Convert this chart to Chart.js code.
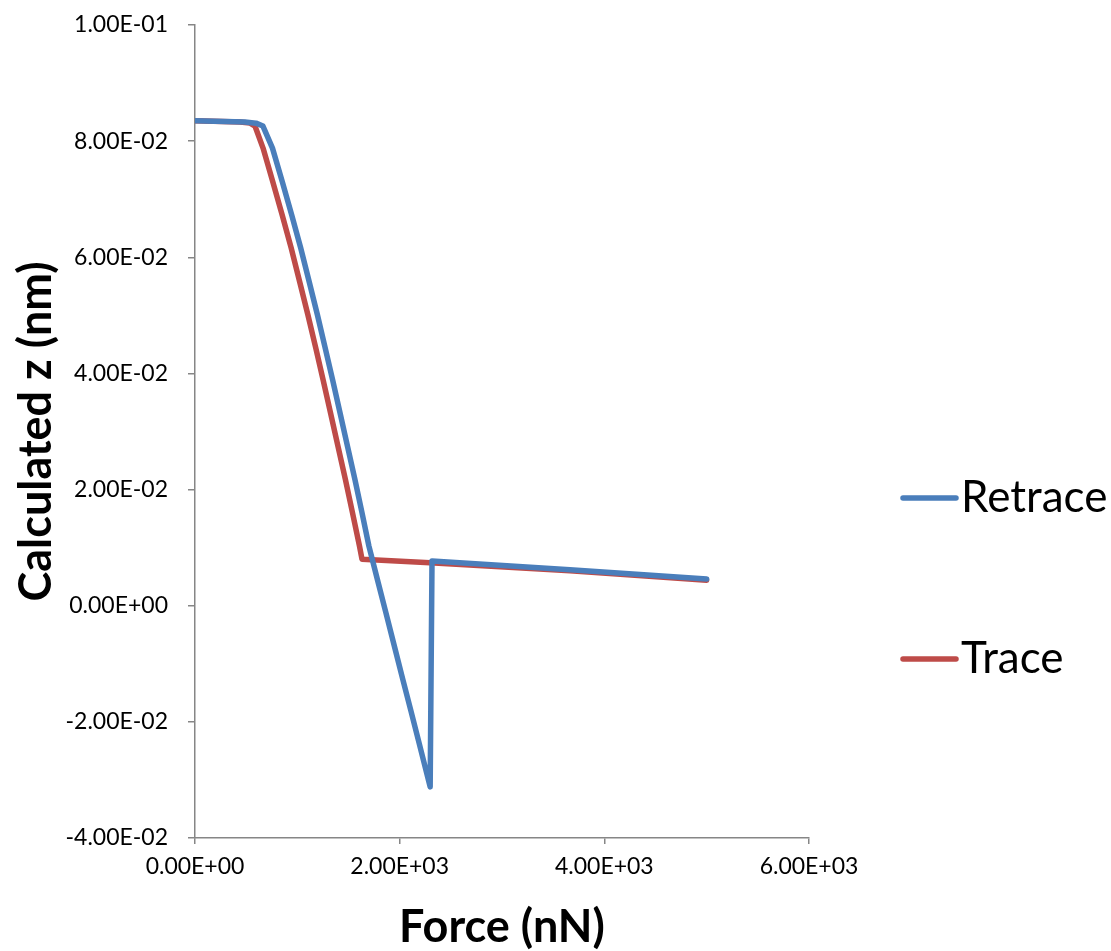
<!DOCTYPE html>
<html>
<head>
<meta charset="utf-8">
<script src="https://cdn.jsdelivr.net/npm/chart.js@4.4.1/dist/chart.umd.min.js"></script>
<style>
  html, body { margin: 0; padding: 0; background: #ffffff; }
  #wrap { width: 1111px; height: 951px; position: relative; }
</style>
</head>
<body>
<div id="wrap"><canvas id="c" width="1111" height="951"></canvas></div>
<script>
// Force (nN) and calculated z (nm) for the retrace sweep
const retraceForce = [0, 489, 596, 664, 757, 853, 945, 1033, 1117, 1196, 1272, 1347, 1420, 1492, 1563, 1632, 1699, 1781, 1864, 1946, 2028, 2110, 2192, 2298, 2316, 3664, 5000];
const retraceZ = [0.0835, 0.0833, 0.0831, 0.0826, 0.0788, 0.0730, 0.0673, 0.0616, 0.0557, 0.0501, 0.0444, 0.0387, 0.0330, 0.0273, 0.0217, 0.0160, 0.0103, 0.0046, -0.0011, -0.0068, -0.0125, -0.0181, -0.0238, -0.0312, 0.0077, 0.0062, 0.0046];

// Force (nN) and calculated z (nm) for the trace sweep
const traceForce = [0, 440, 537, 586, 665, 760, 852, 940, 1024, 1103, 1180, 1254, 1327, 1399, 1470, 1539, 1607, 1632, 2296, 3664, 5000];
const traceZ = [0.0835, 0.0833, 0.0831, 0.0826, 0.0788, 0.0730, 0.0673, 0.0616, 0.0557, 0.0501, 0.0444, 0.0387, 0.0330, 0.0273, 0.0217, 0.0160, 0.0103, 0.0080, 0.0074, 0.0060, 0.0044];

const seriesNames = ['Retrace', 'Trace'];
const seriesColors = ['#4A7EBB', '#BE4B48'];

const xTitle = 'Force (nN)';
const yTitle = 'Calculated z (nm)';

const FONT = 'Lato, "Open Sans", sans-serif';
const AXIS_GREY = '#868686';

function toPoints(xs, ys) {
  return xs.map((x, i) => ({ x: x, y: ys[i] }));
}

// Excel-style scientific notation: 1.00E-01
function sci(v) {
  if (Math.abs(v) < 1e-12) v = 0;
  const s = v.toExponential(2);
  const parts = s.split('e');
  const expNum = parseInt(parts[1], 10);
  const sign = expNum < 0 ? '-' : '+';
  const mag = String(Math.abs(expNum)).padStart(2, '0');
  return parts[0] + 'E' + sign + mag;
}

// Legend drawn at the right side with wide spacing between entries
const sideLegend = {
  id: 'sideLegend',
  afterDraw(chart) {
    const ctx = chart.ctx;
    const rows = [498, 659];
    ctx.save();
    chart.data.datasets.forEach((ds, i) => {
      const y = rows[i];
      ctx.strokeStyle = ds.borderColor;
      ctx.lineWidth = 5.5;
      ctx.lineCap = 'round';
      ctx.beginPath();
      ctx.moveTo(903, y);
      ctx.lineTo(956, y);
      ctx.stroke();
      ctx.fillStyle = '#000000';
      ctx.font = '44px ' + FONT;
      ctx.textBaseline = 'middle';
      ctx.textAlign = 'left';
      ctx.fillText(ds.label, 961, y);
    });
    ctx.restore();
  }
};

function lineDataset(i, xs, ys) {
  return {
    label: seriesNames[i],
    data: toPoints(xs, ys),
    borderColor: seriesColors[i],
    backgroundColor: seriesColors[i],
    showLine: true,
    pointRadius: 0,
    borderWidth: 5.5,
    borderJoinStyle: 'round',
    borderCapStyle: 'round',
    tension: 0
  };
}

new Chart(document.getElementById('c'), {
  type: 'scatter',
  data: {
    datasets: [
      lineDataset(0, retraceForce, retraceZ),
      lineDataset(1, traceForce, traceZ)
    ]
  },
  options: {
    responsive: false,
    animation: false,
    layout: { padding: { left: 0, right: 302, top: 25, bottom: 0 } },
    plugins: {
      legend: { display: false },
      tooltip: { enabled: false }
    },
    scales: {
      x: {
        type: 'linear',
        min: 0,
        max: 6000,
        afterFit(scale) { scale.height = 113; },
        ticks: {
          stepSize: 2000,
          callback: (v) => sci(v),
          color: '#000000',
          font: { family: FONT, size: 23 },
          padding: 9,
          maxRotation: 0
        },
        grid: {
          drawOnChartArea: false,
          drawTicks: true,
          tickLength: 6,
          color: AXIS_GREY,
          lineWidth: 1.5
        },
        border: { display: true, color: AXIS_GREY, width: 1.5 },
        title: {
          display: true,
          text: xTitle,
          color: '#000000',
          font: { family: FONT, size: 45, weight: 'bold', lineHeight: 1.0 },
          padding: { top: 0, bottom: 1 }
        }
      },
      y: {
        type: 'linear',
        min: -0.04,
        max: 0.1,
        afterFit(scale) {
          scale.width = 195;
          // keep the tick gap from pushing the plot area down
          scale.paddingTop = 12;
          scale.paddingBottom = 12;
        },
        ticks: {
          stepSize: 0.02,
          callback: (v) => sci(v),
          color: '#000000',
          font: { family: FONT, size: 23 },
          padding: 20
        },
        grid: {
          drawOnChartArea: false,
          drawTicks: true,
          tickLength: 7,
          color: AXIS_GREY,
          lineWidth: 1.5
        },
        border: { display: true, color: AXIS_GREY, width: 1.5 },
        title: {
          display: true,
          text: yTitle,
          color: '#000000',
          font: { family: FONT, size: 45, weight: 'bold', lineHeight: 1.2 },
          padding: { top: 9, bottom: 0 }
        }
      }
    }
  },
  plugins: [sideLegend]
});
</script>
</body>
</html>
